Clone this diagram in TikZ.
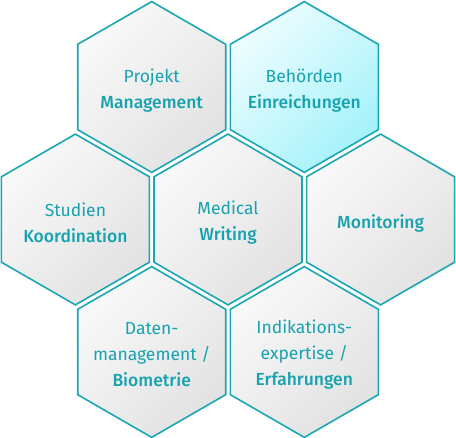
\documentclass[tikz,border=0pt]{standalone}
\usepackage{fontspec}
\setmainfont{Fira Sans}[BoldFont={Fira Sans Medium}]
\definecolor{edgeteal}{HTML}{1AA6B3}
\definecolor{txtteal}{HTML}{16A2AF}
\definecolor{grayA}{HTML}{F9F9F9}
\definecolor{grayB}{HTML}{E2E2E2}
\definecolor{cyanA}{HTML}{EEFDFF}
\definecolor{cyanB}{HTML}{A4F2FA}
\tikzset{
  cellbase/.style={draw=edgeteal, line width=1.6pt, line join=miter},
  graycell/.style={cellbase, left color=grayA, right color=grayB, shading angle=45},
  cyancell/.style={cellbase, left color=cyanA, right color=cyanB, shading angle=45},
  celltext/.style={text=txtteal, align=center, font=\fontsize{17.5}{26}\selectfont, inner sep=0pt},
}
\newcommand{\hexcell}[3]{%
  \path[#3, shift={(#1,#2)}] (74,-42.7) -- (0,-85.4) -- (-74,-42.7) -- (-74,42.7) -- (0,85.4) -- (74,42.7) -- cycle;}
\begin{document}
\begin{tikzpicture}[x=1pt,y=1pt]
  \useasboundingbox (0,0) rectangle (456,438);
  % top row (image y = 87)
  \hexcell{151.7}{351}{graycell}
  \hexcell{304.3}{351}{cyancell}
  % middle row (image y = 219.5)
  \hexcell{75.4}{218.5}{graycell}
  \hexcell{228}{218.5}{graycell}
  \hexcell{380.6}{218.5}{graycell}
  % bottom row (image y = 352)
  \hexcell{151.7}{86}{graycell}
  \hexcell{304.3}{86}{graycell}
  % texts
  \node[celltext] (pm) at (151.7,347.5) {Projekt\\\bfseries Management};
  \node[celltext] (be) at (304.3,347.5) {Behörden\\\bfseries Einreichungen};
  \node[celltext] (sk) at (75.4,215) {Studien\\\bfseries Koordination};
  \node[celltext] (mw) at (228,215) {Medical\\\bfseries Writing};
  \node[celltext] (mo) at (380.6,215) {\bfseries Monitoring};
  \node[celltext] (db) at (151.7,83) {Daten-\\management /\\\bfseries Biometrie};
  \node[celltext] (ie) at (304.3,83) {Indikations-\\expertise /\\\bfseries Erfahrungen};
\end{tikzpicture}
\end{document}
